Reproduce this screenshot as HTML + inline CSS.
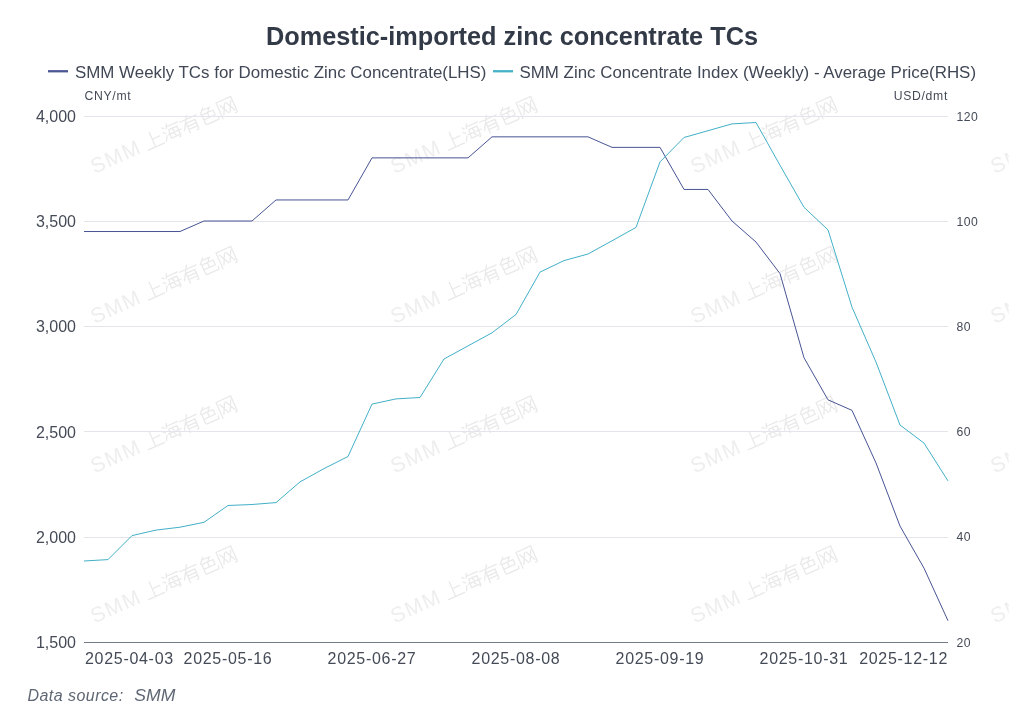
<!DOCTYPE html>
<html><head><meta charset="utf-8"><style>
html,body{margin:0;padding:0;background:#fff;}
svg{display:block;will-change:transform;}
text{font-family:"Liberation Sans",sans-serif;}
.title{font-size:25.3px;font-weight:bold;fill:#333a47;}
.leg{font-size:16.9px;fill:#404755;}
.unit{font-size:12.2px;letter-spacing:0.7px;fill:#444a56;}
.yl{font-size:16px;fill:#444a56;}
.yr{font-size:12.2px;letter-spacing:0.5px;fill:#444a56;}
.xl{font-size:16px;fill:#444a56;letter-spacing:0.7px;}
.src{font-size:16px;font-style:italic;fill:#5f6774;}
.wm{font-size:21px;fill:#eeeeee;letter-spacing:1.4px;}
</style></head><body>
<svg width="1024" height="722" viewBox="0 0 1024 722">
<defs>
<g id="wmk"><text x="0" y="0" class="wm">SMM</text><g stroke="#e9e9e9" stroke-width="1.3" fill="none" stroke-linecap="round"><path transform="translate(58,-17.4) scale(0.2)" d="M45 8 V88 M45 46 H86 M6 88 H94" vector-effect="non-scaling-stroke"/><path transform="translate(78,-17.4) scale(0.2)" d="M12 14 L20 22 M8 38 L18 46 M6 84 L19 60 M40 4 L31 26 M36 18 H95 M40 36 H84 V84 Q84 92 76 90 M40 36 L35 80 M28 58 H98 M36 80 H84 M58 42 L64 50 M57 64 L63 72" vector-effect="non-scaling-stroke"/><path transform="translate(98,-17.4) scale(0.2)" d="M5 24 H95 M50 5 L10 72 M32 42 V96 M32 42 H80 V88 Q80 96 70 94 M32 60 H80 M32 76 H80" vector-effect="non-scaling-stroke"/><path transform="translate(118,-17.4) scale(0.2)" d="M40 4 L14 32 M34 16 H70 L56 32 M20 36 H82 V62 H20 Z M51 36 V62 M20 62 V84 Q20 90 30 90 H88 Q93 90 93 76" vector-effect="non-scaling-stroke"/><path transform="translate(138,-17.4) scale(0.2)" d="M10 10 V96 M10 10 H90 V88 Q90 96 80 94 M22 28 L48 80 M48 28 L22 80 M56 28 L82 80 M82 28 L56 80" vector-effect="non-scaling-stroke"/></g></g>
</defs>
<rect width="1024" height="722" fill="#fff"/>
<clipPath id="wc"><rect x="0" y="0" width="1008.7" height="722"/></clipPath>
<g clip-path="url(#wc)">
<use href="#wmk" transform="translate(94.4,174) rotate(-24)"/>
<use href="#wmk" transform="translate(94.4,324) rotate(-24)"/>
<use href="#wmk" transform="translate(94.4,473.5) rotate(-24)"/>
<use href="#wmk" transform="translate(94.4,623.5) rotate(-24)"/>
<use href="#wmk" transform="translate(394.4,174) rotate(-24)"/>
<use href="#wmk" transform="translate(394.4,324) rotate(-24)"/>
<use href="#wmk" transform="translate(394.4,473.5) rotate(-24)"/>
<use href="#wmk" transform="translate(394.4,623.5) rotate(-24)"/>
<use href="#wmk" transform="translate(694.4,174) rotate(-24)"/>
<use href="#wmk" transform="translate(694.4,324) rotate(-24)"/>
<use href="#wmk" transform="translate(694.4,473.5) rotate(-24)"/>
<use href="#wmk" transform="translate(694.4,623.5) rotate(-24)"/>
<use href="#wmk" transform="translate(994.4,174) rotate(-24)"/>
<use href="#wmk" transform="translate(994.4,324) rotate(-24)"/>
<use href="#wmk" transform="translate(994.4,473.5) rotate(-24)"/>
<use href="#wmk" transform="translate(994.4,623.5) rotate(-24)"/>
</g>
<line x1="84" y1="116.50" x2="948" y2="116.50" stroke="#e3e5ea" stroke-width="1"/>
<line x1="84" y1="221.50" x2="948" y2="221.50" stroke="#e3e5ea" stroke-width="1"/>
<line x1="84" y1="326.50" x2="948" y2="326.50" stroke="#e3e5ea" stroke-width="1"/>
<line x1="84" y1="431.50" x2="948" y2="431.50" stroke="#e3e5ea" stroke-width="1"/>
<line x1="84" y1="537.50" x2="948" y2="537.50" stroke="#e3e5ea" stroke-width="1"/>

<line x1="84" y1="642.5" x2="948" y2="642.5" stroke="#737a8a" stroke-width="1"/>
<polyline points="84,231.52 108,231.52 132,231.52 156,231.52 180,231.52 204,221.00 228,221.00 252,221.00 276,199.96 300,199.96 324,199.96 348,199.96 372,157.88 396,157.88 420,157.88 444,157.88 468,157.88 492,136.84 516,136.84 540,136.84 564,136.84 588,136.84 612,147.36 636,147.36 660,147.36 684,189.44 708,189.44 732,221.00 756,242.04 780,273.60 804,357.76 828,399.84 852,410.36 876,462.96 900,526.08 924,568.16 948,620.76" fill="none" stroke="#485494" stroke-width="1" stroke-linejoin="round"/>
<polyline points="84,561.00 108,559.60 132,535.60 156,530.10 180,527.20 204,522.30 228,505.50 252,504.50 276,502.60 300,481.90 324,468.60 348,456.50 372,404.10 396,398.90 420,397.50 444,359.00 468,345.90 492,332.80 516,314.50 540,272.10 564,260.60 588,254.00 612,240.80 636,227.40 660,161.90 684,137.50 708,130.70 732,123.90 756,122.50 780,165.30 804,207.30 828,229.90 852,307.20 876,362.10 900,425.00 924,443.10 948,480.90" fill="none" stroke="#42b0c8" stroke-width="1" stroke-linejoin="round"/>
<text x="512" y="45.3" text-anchor="middle" class="title">Domestic-imported zinc concentrate TCs</text>
<rect x="48" y="70.1" width="20" height="2.3" fill="#4c5896"/>
<text x="75" y="78" class="leg">SMM Weekly TCs for Domestic Zinc Concentrate(LHS)</text>
<rect x="493" y="70.1" width="20" height="2.3" fill="#45b2c9"/>
<text x="519.5" y="78" class="leg">SMM Zinc Concentrate Index (Weekly) - Average Price(RHS)</text>
<text x="84.5" y="99.5" class="unit">CNY/mt</text>
<text x="948" y="99.5" text-anchor="end" class="unit">USD/dmt</text>
<text x="76" y="122.00" text-anchor="end" class="yl">4,000</text>
<text x="76" y="227.20" text-anchor="end" class="yl">3,500</text>
<text x="76" y="332.40" text-anchor="end" class="yl">3,000</text>
<text x="76" y="437.60" text-anchor="end" class="yl">2,500</text>
<text x="76" y="542.80" text-anchor="end" class="yl">2,000</text>
<text x="76" y="648.00" text-anchor="end" class="yl">1,500</text>

<text x="956.5" y="120.50" class="yr">120</text>
<text x="956.5" y="225.70" class="yr">100</text>
<text x="956.5" y="330.90" class="yr">80</text>
<text x="956.5" y="436.10" class="yr">60</text>
<text x="956.5" y="541.30" class="yr">40</text>
<text x="956.5" y="646.50" class="yr">20</text>

<text x="85" y="663.7" text-anchor="start" class="xl">2025-04-03</text>
<text x="228" y="663.7" text-anchor="middle" class="xl">2025-05-16</text>
<text x="372" y="663.7" text-anchor="middle" class="xl">2025-06-27</text>
<text x="516" y="663.7" text-anchor="middle" class="xl">2025-08-08</text>
<text x="660" y="663.7" text-anchor="middle" class="xl">2025-09-19</text>
<text x="804" y="663.7" text-anchor="middle" class="xl">2025-10-31</text>
<text x="948" y="663.7" text-anchor="end" class="xl">2025-12-12</text>

<text x="27.5" y="700.7" class="src" style="letter-spacing:0.45px">Data source:</text><text transform="translate(134.3,700.7) scale(1.1,1)" class="src">SMM</text>
</svg>
</body></html>
